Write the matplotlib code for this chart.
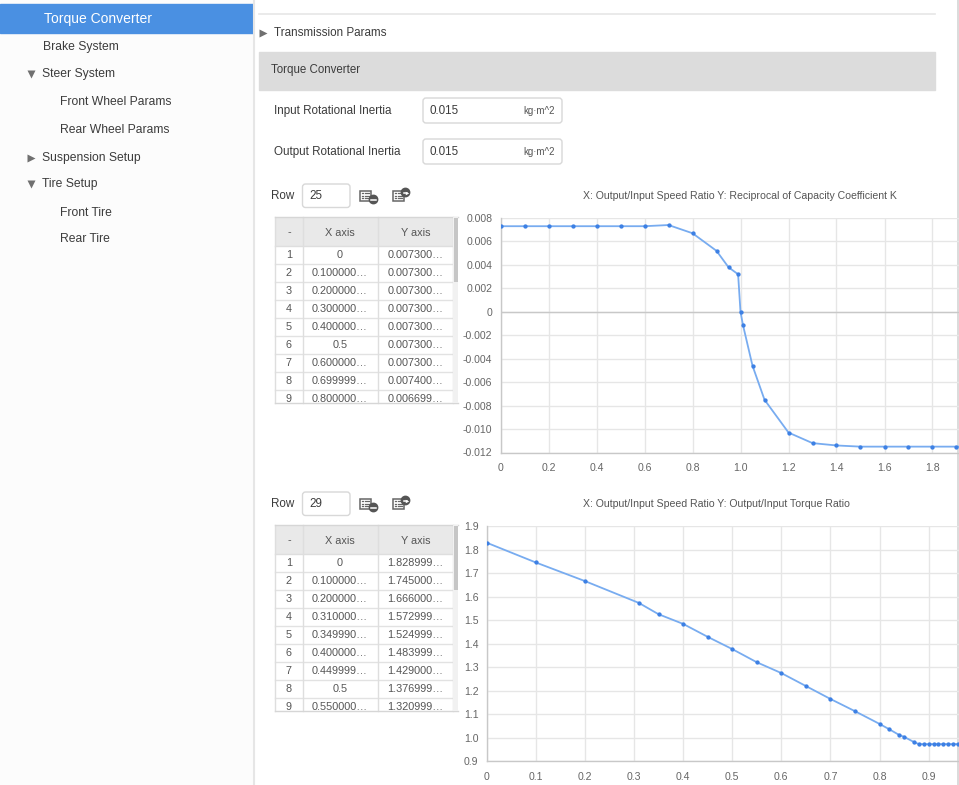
import matplotlib
matplotlib.use("Agg")
import matplotlib.pyplot as plt
from matplotlib.patches import Rectangle, FancyBboxPatch, Circle

plt.rcParams['font.family'] = ['Liberation Sans', 'DejaVu Sans']

W, H = 959, 785

# sidebar menu: (label, indent level, arrow)
menu_items = ["Torque Converter", "Brake System", "Steer System", "Front Wheel Params",
              "Rear Wheel Params", "Suspension Setup", "Tire Setup", "Front Tire", "Rear Tire"]
menu_x = [44, 43, 42, 60, 60, 42, 42, 60, 60]
menu_y = [19, 47, 74.5, 102, 130, 158, 184.5, 212.5, 239.5]
menu_arrow = [None, None, 'v', None, None, '>', 'v', None, None]

# inertia inputs
inertia_labels = ["Input Rotational Inertia", "Output Rotational Inertia"]
inertia_values = ["0.015", "0.015"]
inertia_unit = "kg·m^2"

# chart 1: reciprocal of capacity coefficient K
k_rows = "25"
k_x = [0, 0.1, 0.2, 0.3, 0.4, 0.5, 0.6, 0.7, 0.8, 0.9, 0.95, 0.99, 1.0, 1.01, 1.05,
       1.1, 1.2, 1.3, 1.4, 1.5, 1.6, 1.7, 1.8, 1.9, 2.0]
k_y = [0.0073, 0.0073, 0.0073, 0.0073, 0.0073, 0.0073, 0.0073, 0.0074, 0.0067, 0.0052,
       0.0038, 0.0032, 0.0, -0.0011, -0.0046, -0.0075, -0.0103, -0.0112, -0.0114,
       -0.0115, -0.0115, -0.0115, -0.0115, -0.0115, -0.0115]
k_tab_x = ["0", "0.100000…", "0.200000…", "0.300000…", "0.400000…", "0.5",
           "0.600000…", "0.699999…", "0.800000…"]
k_tab_y = ["0.007300…"] * 7 + ["0.007400…", "0.006699…"]
k_title = "X: Output/Input Speed Ratio Y: Reciprocal of Capacity Coefficient K"
k_xticks = [0, 0.2, 0.4, 0.6, 0.8, 1.0, 1.2, 1.4, 1.6, 1.8, 2.0]
k_xlabels = ["0", "0.2", "0.4", "0.6", "0.8", "1.0", "1.2", "1.4", "1.6", "1.8", ""]
k_yticks = [0.008, 0.006, 0.004, 0.002, 0, -0.002, -0.004, -0.006, -0.008, -0.010, -0.012]
k_ylabels = ["0.008", "0.006", "0.004", "0.002", "0", "-0.002", "-0.004", "-0.006",
             "-0.008", "-0.010", "-0.012"]

# chart 2: torque ratio
t_rows = "29"
t_x = [0, 0.1, 0.2, 0.31, 0.35, 0.4, 0.45, 0.5, 0.55, 0.6, 0.65, 0.7, 0.75, 0.8,
       0.82, 0.84, 0.85, 0.87, 0.88, 0.89, 0.9, 0.91, 0.92, 0.93, 0.94, 0.95, 0.96,
       0.97, 0.98]
t_y = [1.829, 1.745, 1.666, 1.573, 1.525, 1.484, 1.429, 1.377, 1.321, 1.275, 1.220,
       1.165, 1.113, 1.059, 1.036, 1.012, 1.004, 0.982, 0.973, 0.973, 0.973, 0.973,
       0.973, 0.973, 0.973, 0.973, 0.973, 0.973, 0.973]
t_tab_x = ["0", "0.100000…", "0.200000…", "0.310000…", "0.349990…", "0.400000…",
           "0.449999…", "0.5", "0.550000…"]
t_tab_y = ["1.828999…", "1.745000…", "1.666000…", "1.572999…", "1.524999…",
           "1.483999…", "1.429000…", "1.376999…", "1.320999…"]
t_title = "X: Output/Input Speed Ratio Y: Output/Input Torque Ratio"
t_xticks = [0, 0.1, 0.2, 0.3, 0.4, 0.5, 0.6, 0.7, 0.8, 0.9, 1.0]
t_xlabels = ["0", "0.1", "0.2", "0.3", "0.4", "0.5", "0.6", "0.7", "0.8", "0.9", ""]
t_yticks = [1.9, 1.8, 1.7, 1.6, 1.5, 1.4, 1.3, 1.2, 1.1, 1.0, 0.9]
t_ylabels = ["1.9", "1.8", "1.7", "1.6", "1.5", "1.4", "1.3", "1.2", "1.1", "1.0", "0.9"]

TXT = '#3c3c3c'
GRID = '#e6e6e6'
AXL = '#c8c8c8'
LINE = '#78acf0'
DOT = '#3d80e4'

fig = plt.figure(figsize=(W / 100, H / 100), dpi=100)
bg = fig.add_axes([0, 0, 1, 1])
bg.set_xlim(0, W)
bg.set_ylim(H, 0)
bg.axis('off')

# sidebar
bg.add_patch(Rectangle((0, 0), 253, H, color='#fcfcfc', zorder=0))
bg.plot([253.5, 253.5], [0, H], color='#e6e6e6', lw=1.5)
bg.add_patch(Rectangle((0, 4), 252.5, 28.5, color='#4a90e2', zorder=1))
for i, lab in enumerate(menu_items):
    sel = i == 0
    bg.text(menu_x[i], menu_y[i], lab, fontsize=10 if sel else 8.7,
            color='white' if sel else TXT, va='center', ha='left', zorder=3)
    if menu_arrow[i]:
        bg.plot(30.5, menu_y[i] - 0.5, marker=menu_arrow[i], ms=5.5, color='#707070',
                mec='none', zorder=3)

# right panel header
bg.plot([259, 935], [14, 14], color='#e6e6e6', lw=1.2)
bg.plot(263, 33, marker='>', ms=5.5, color='#707070', mec='none')
bg.text(274, 33.5, "Transmission Params", fontsize=8.4, color=TXT, va='center')
bg.add_patch(Rectangle((259, 52), 676, 37.5, color='#dcdcdc', zorder=1))
bg.text(271, 70, "Torque Converter", fontsize=8.3, color=TXT, va='center', zorder=2)

for i, lab in enumerate(inertia_labels):
    yc = 110.5 + i * 41
    bg.text(274, yc + 0.5, lab, fontsize=8.4, color=TXT, va='center')
    bg.add_patch(FancyBboxPatch((423, yc - 12.5), 139, 25, boxstyle="round,pad=0,rounding_size=3",
                                fc='white', ec='#d8d8d8', lw=1))
    bg.text(430, yc + 0.5, inertia_values[i], fontsize=8.4, color=TXT, va='center')
    bg.text(555, yc + 0.5, inertia_unit, fontsize=7, color='#555555', va='center', ha='right')

# right border
bg.plot([957.5, 957.5], [0, H], color='#d4d4d4', lw=1.2, zorder=10)


def icon_add(x, y):
    bg.add_patch(Rectangle((x, y), 11.5, 10, fc='white', ec='#666666', lw=1.1))
    for k in range(3):
        bg.plot([x + 2, x + 3.5], [y + 2.5 + k * 2.5] * 2, color='#666666', lw=0.9)
        bg.plot([x + 5, x + 9.5], [y + 2.5 + k * 2.5] * 2, color='#666666', lw=0.9)


def table_block(top, rows, tab_x, tab_y, title):
    bg.text(271, top + 0.5, "Row", fontsize=8.4, color=TXT, va='center')
    bg.add_patch(FancyBboxPatch((302.5, top - 11.5), 47.5, 23.5, boxstyle="round,pad=0,rounding_size=3",
                                fc='white', ec='#d8d8d8', lw=1))
    bg.text(309, top + 0.5, rows, fontsize=8.4, color=TXT, va='center')
    # icons
    icon_add(359.5, top - 5)
    bg.add_patch(Circle((373.5, top + 4), 4.2, color='#555555', zorder=4))
    bg.plot([371.3, 375.7], [top + 4, top + 4], color='white', lw=1.1, zorder=5)
    icon_add(392.5, top - 5)
    bg.add_patch(Circle((405.5, top - 3), 4.2, color='#555555', zorder=4))
    bg.plot([403.5, 407.3], [top - 3, top - 3], color='white', lw=1.1, zorder=5)
    bg.plot(406.8, top - 3, marker='>', ms=2.5, color='white', mec='none', zorder=5)
    # table
    t0 = top + 21.5
    hdr = 29
    rh = 18
    bottom = t0 + hdr + rh * 8.7
    cols = [275, 303, 377.5, 453]
    bg.add_patch(Rectangle((275, t0), 183, bottom - t0, fc='white', ec='none', zorder=1))
    bg.add_patch(Rectangle((275, t0), 178, hdr, fc='#e9e9e9', ec='none', zorder=2))
    centers = [289, 340, 415.5]
    for c, lab in zip(centers, ["-", "X axis", "Y axis"]):
        bg.text(c, t0 + hdr / 2 + 1, lab, fontsize=7.8, color='#555555', ha='center',
                va='center', zorder=3)
    for r in range(9):
        yc = t0 + hdr + rh * (r + 0.5) + 0.5
        bg.text(centers[0], yc, str(r + 1), fontsize=7.8, color='#555555', ha='center', va='center', zorder=3)
        bg.text(centers[1], yc, tab_x[r], fontsize=7.8, color='#555555', ha='center', va='center', zorder=3)
        bg.text(centers[2], yc, tab_y[r], fontsize=7.8, color='#555555', ha='center', va='center', zorder=3)
        if r < 8:
            bg.plot([275, 453], [t0 + hdr + rh * (r + 1)] * 2, color='#e2e2e2', lw=1, zorder=3)
    # clip last row
    bg.add_patch(Rectangle((270, bottom), 195, 14, fc='white', ec='none', zorder=6))
    for cx in cols:
        bg.plot([cx, cx], [t0, bottom], color='#dedede', lw=1, zorder=7)
    bg.plot([275, 458], [t0, t0], color='#d6d6d6', lw=1, zorder=7)
    bg.plot([275, 458], [bottom, bottom], color='#d6d6d6', lw=1, zorder=7)
    bg.plot([275, 453], [t0 + hdr, t0 + hdr], color='#dedede', lw=1, zorder=7)
    bg.add_patch(Rectangle((453, t0), 5, bottom - t0, fc='#f1f1f1', ec='none', zorder=7))
    bg.add_patch(Rectangle((453.5, t0 + 1), 4, 64, fc='#c6c6c6', ec='none', zorder=8))
    bg.text(583, top + 0.5, title, fontsize=7.6, color='#555555', va='center', ha='left')


table_block(195.5, k_rows, k_tab_x, k_tab_y, k_title)
table_block(503.5, t_rows, t_tab_x, t_tab_y, t_title)


def chart(left, top, bottom, xmax, ppu, xs, ys, xt, xl, yt, yl, ylim):
    width = xmax * ppu
    ax = fig.add_axes([left / W, 1 - bottom / H, width / W, (bottom - top) / H])
    ax.set_facecolor('none')
    ax.plot(xs, ys, color=LINE, lw=1.3, marker='o', ms=2.1, mfc=DOT, mec=DOT, zorder=5,
            clip_on=True)
    ax.set_xlim(0, xmax)
    ax.set_ylim(*ylim)
    ax.set_xticks(xt, xl)
    ax.set_yticks(yt, yl)
    ax.grid(color=GRID, lw=1)
    ax.set_axisbelow(True)
    for s in ['top', 'right']:
        ax.spines[s].set_visible(False)
    for s in ['left', 'bottom']:
        ax.spines[s].set_color(AXL)
        ax.spines[s].set_linewidth(1)
    ax.tick_params(length=0, labelsize=7.6, labelcolor='#666666')
    ax.tick_params(axis='x', pad=7.5)
    ax.tick_params(axis='y', pad=6)
    return ax


ax1 = chart(500.5, 218, 452.5, 2.0, 240, k_x, k_y, k_xticks, k_xlabels, k_yticks, k_ylabels,
            (-0.012, 0.008))
ax1.axhline(0, color=AXL, lw=1, zorder=2)
ax2 = chart(486.7, 526, 761.3, 1.0, 491, t_x, t_y, t_xticks, t_xlabels, t_yticks, t_ylabels,
            (0.9, 1.9))

fig.savefig("out.png", dpi=100)
